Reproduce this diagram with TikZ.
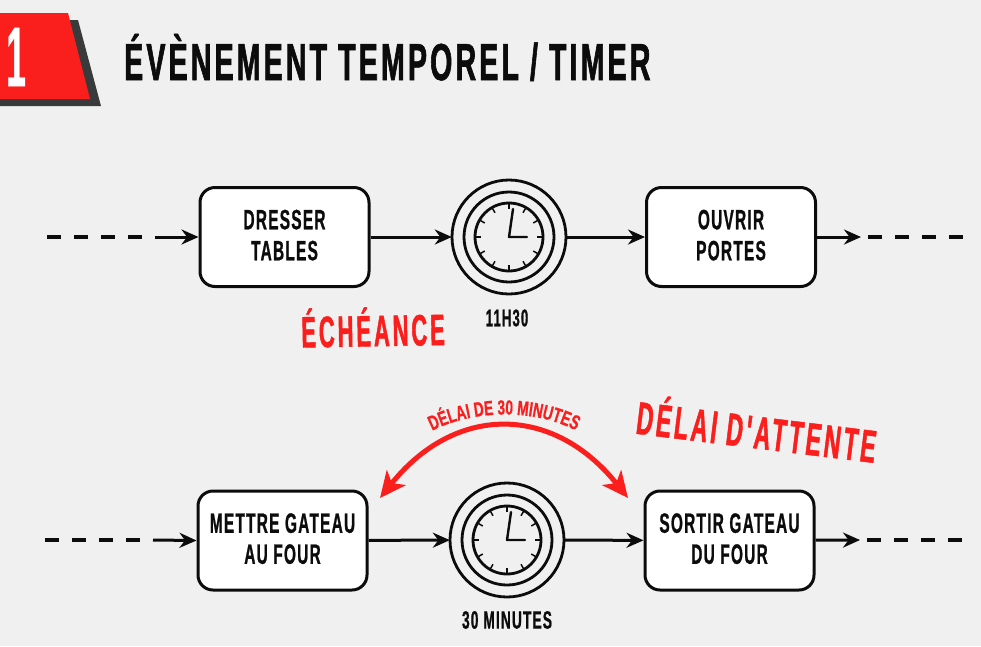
\documentclass[tikz,border=0pt]{standalone}
\usepackage{fontspec}
\setmainfont[FakeStretch=0.55,LetterSpace=4.5,BoldFont={Liberation Sans Bold},BoldFeatures={FakeBold=0.8}]{Liberation Sans}
\newfontface\redface[FakeStretch=0.5,LetterSpace=6.5,FakeBold=1]{Liberation Sans Bold}
\newfontface\titleface[FakeStretch=0.55,LetterSpace=6,FakeBold=1.2]{Liberation Sans Bold}
\newfontface\curveface[FakeStretch=0.67,FakeBold=0.6]{Liberation Sans Bold}
\newfontface\numface[FakeStretch=0.42,FakeBold=0.4]{Liberation Sans Bold}
\usetikzlibrary{arrows.meta,decorations.text,calc}
\definecolor{bg}{RGB}{240,240,240}
\definecolor{rd}{RGB}{250,30,28}
\definecolor{dk}{RGB}{56,58,60}
\definecolor{ink}{RGB}{12,12,12}
\newcommand{\lifted}{\\[-27pt]\mbox{}}
\newcommand{\clockface}[2]{%
 \foreach \r in {57,45,34}{\draw[ink,line width=2.8] (#1,#2) circle[radius=\r];}
 \foreach \a in {0,30,...,330}{\draw[ink,line width=1.5] ($(#1,#2)+(\a:34)$) -- ($(#1,#2)+(\a:28)$);}
 \draw[ink,line width=2.4,line cap=round,line join=round] (#1+4,#2-28) -- (#1,#2) -- (#1+18,#2);
}
\tikzset{
 flowbox/.style={draw=ink,fill=white,line width=3,rounded corners=15,minimum width=169,minimum height=99,inner sep=0,align=center,font=\bfseries\fontsize{28}{31}\selectfont,text=ink},
 flow/.style={ink,line width=3,-{Stealth[length=17,width=15]}},
 dashline/.style={ink,line width=3.2,dash pattern=on 14 off 13},
 clocknode/.style={circle,minimum size=114,inner sep=0},
 captxt/.style={font=\bfseries\fontsize{25}{28}\selectfont,text=ink},
 redtxt/.style={font=\redface\fontsize{44}{50}\selectfont,text=rd},
}
\begin{document}
\begin{tikzpicture}[x=1pt,y=-1pt]
\useasboundingbox (0,0) rectangle (981,646);
\fill[bg] (0,0) rectangle (981,646);
% badge
\fill[dk] (0,20) -- (78,20) -- (101,106) -- (0,106) -- cycle;
\fill[rd] (0,13) -- (68,13) -- (90,99) -- (0,99) -- cycle;
\node[font=\numface\fontsize{85}{85}\selectfont,text=white,anchor=center] (num) at (16,57) {1};
\node[font=\titleface\fontsize{52}{56}\selectfont,text=ink,anchor=west,inner sep=0] (title) at (124,57.5) {ÉVÈNEMENT TEMPOREL / TIMER};
% row 1
\node[flowbox] (a) at (284.5,237) {DRESSER\\TABLES\lifted};
\node[clocknode] (c1) at (509,237) {};
\clockface{509}{237}
\node[flowbox] (b) at (731,237) {OUVRIR\\PORTES\lifted};
\coordinate (l1) at (47,237); \coordinate (l1e) at (143,237); \coordinate (l1s) at (155,237);
\coordinate (r1) at (868,237); \coordinate (r1t) at (861,237); \coordinate (r1e) at (965,237);
\draw[dashline] (l1) -- (l1e);
\draw[flow] (l1s) -- (a.west);
\draw[flow] (a) -- (c1);
\draw[flow] (c1) -- (b);
\draw[flow] (b) -- (r1t);
\draw[dashline] (r1) -- (r1e);
\node[captxt,font=\bfseries\fontsize{24}{28}\selectfont] (t1) at (507,318) {11H30};
\node[redtxt,rotate=1] (ech) at (373,327) {ÉCHÉANCE};
% row 2
\node[flowbox] (d) at (282.5,540.5) {METTRE GATEAU\\AU FOUR\lifted};
\node[clocknode] (c2) at (507,540) {};
\clockface{507}{540}
\node[flowbox] (e) at (729.5,540.5) {SORTIR GATEAU\\DU FOUR\lifted};
\coordinate (l2) at (45,540); \coordinate (l2e) at (141,540); \coordinate (l2s) at (153,540);
\coordinate (r2) at (867,540); \coordinate (r2t) at (860,540); \coordinate (r2e) at (963,540);
\draw[dashline] (l2) -- (l2e);
\draw[flow] (l2s) -- (d.west);
\draw[flow] (d) -- (c2);
\draw[flow] (c2) -- (e);
\draw[flow] (e) -- (r2t);
\draw[dashline] (r2) -- (r2e);
\node[captxt] (t2) at (507,620) {30 MINUTES};
% delay
\coordinate (p) at (380,498); \coordinate (q) at (628,498);
\draw[rd,line width=5,{Stealth[length=26,width=24,inset=7]}-{Stealth[length=26,width=24,inset=7]}] (p) .. controls (455,404) and (553,404) .. (q);
\path[postaction={decorate},decoration={text along path,text align=center,text={|\curveface\fontsize{20.5}{24}\selectfont\color{rd}|DÉLAI DE 30 MINUTES}}] (421,437) .. controls (468,407) and (542,407) .. (587,437);
\node[redtxt,rotate=-7,font=\redface\fontsize{46}{50}\selectfont] (del) at (757,428) {DÉLAI D'ATTENTE};
\end{tikzpicture}
\end{document}
